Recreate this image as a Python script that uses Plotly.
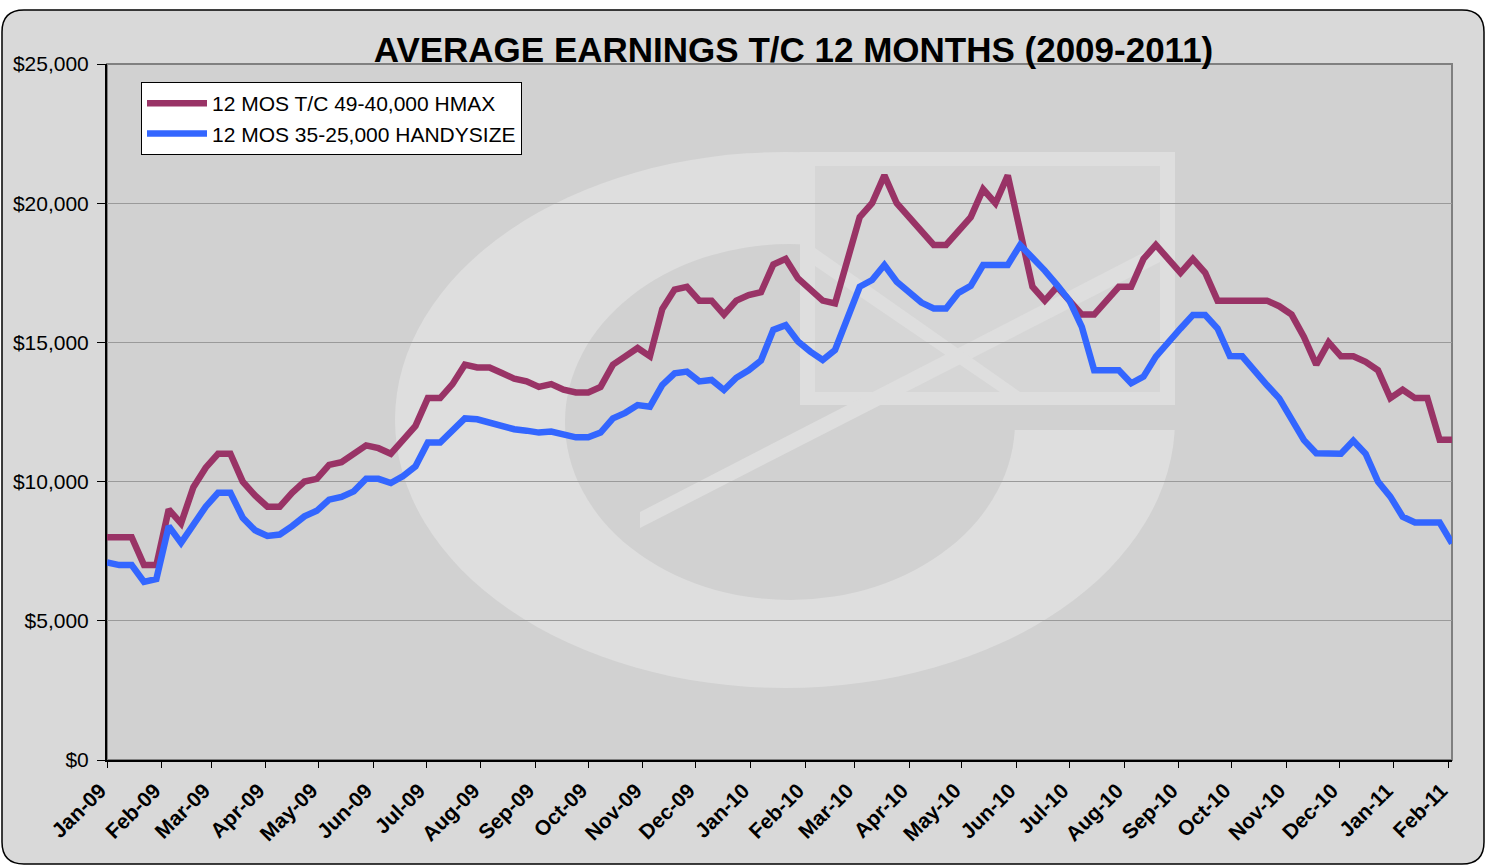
import pandas as pd
import plotly.graph_objects as go

# ---------------- data ----------------
start_date = "2009-01-01"
n_weeks = 110
dates = pd.date_range(start_date, periods=n_weeks, freq="7D")

hmax_name = "12 MOS T/C 49-40,000 HMAX"
handy_name = "12 MOS 35-25,000 HANDYSIZE"

hmax = [8000, 8000, 8000, 7000, 7000, 9000, 8500, 9800, 10500, 11000,
        11000, 10000, 9500, 9100, 9100, 9600, 10000, 10100, 10600, 10700,
        11000, 11300, 11200, 11000, 11500, 12000, 13000, 13000, 13500, 14200,
        14100, 14100, 13900, 13700, 13600, 13400, 13500, 13300, 13200, 13200,
        13400, 14200, 14500, 14800, 14500, 16200, 16900, 17000, 16500, 16500,
        16000, 16500, 16700, 16800, 17800, 18000, 17300, 16900, 16500, 16400,
        18000, 19500, 20000, 21000, 20000, 19500, 19000, 18500, 18500, 19000,
        19500, 20500, 20000, 21000, 19100, 17000, 16500, 17000, 16500, 16000,
        16000, 16500, 17000, 17000, 18000, 18500, 18000, 17500, 18000, 17500,
        16500, 16500, 16500, 16500, 16500, 16300, 16000, 15200, 14200, 15000,
        14500, 14500, 14300, 14000, 13000, 13300, 13000, 13000, 11500, 11500]

handy = [7100, 7000, 7000, 6400, 6500, 8400, 7800, 8450, 9100, 9600,
         9600, 8700, 8250, 8050, 8100, 8400, 8750, 8950, 9350, 9450,
         9650, 10100, 10100, 9950, 10200, 10550, 11400, 11400, 11800, 12270,
         12240, 12120, 11970, 11880, 11830, 11760, 11800, 11710, 11590, 11590,
         11760, 12270, 12470, 12750, 12690, 13470, 13890, 13950, 13600, 13650,
         13290, 13730, 14000, 14350, 15450, 15620, 15030, 14670, 14370, 14730,
         15920, 17000, 17240, 17780, 17180, 16780, 16430, 16220, 16220, 16780,
         17030, 17780, 17780, 17780, 18500, 18060, 17580, 17060, 16500, 15560,
         14000, 14000, 14000, 13530, 13770, 14490, 15030, 15500, 15980, 15980,
         15500, 14510, 14500, 13950, 13470, 12990, 12210, 11490, 11020, 11000,
         11000, 11470, 11000, 10000, 9460, 8740, 8530, 8530, 8530, 7780]

y_ticks = [0, 5000, 10000, 15000, 20000, 25000]
y_ticktext = [f"${v:,}" for v in y_ticks]
title_text = "AVERAGE EARNINGS T/C 12 MONTHS (2009-2011)"

# ---------------- layout helpers ----------------
W, H = 1486, 866
L, R, T, B = 107, 1452, 64, 760


def px(x):
    return (x - L) / (R - L)


def py(y):
    return (B - y) / (B - T)


def rect(x0, y0, x1, y1, fill, line=None, lw=0):
    return dict(type="rect", xref="paper", yref="paper",
                x0=px(x0), x1=px(x1), y0=py(y1), y1=py(y0),
                fillcolor=fill, line=dict(color=line or fill, width=lw),
                layer="below")


def ellipse(x0, y0, x1, y1, fill):
    return dict(type="circle", xref="paper", yref="paper",
                x0=px(x0), x1=px(x1), y0=py(y1), y1=py(y0),
                fillcolor=fill, line=dict(width=0), layer="below")


def poly(points, fill):
    d = "M " + " L ".join(f"{px(a):.5f},{py(b):.5f}" for a, b in points) + " Z"
    return dict(type="path", xref="paper", yref="paper", path=d,
                fillcolor=fill, line=dict(width=0), layer="below")


def rounded_rect(x0, y0, x1, y1, r):
    pts = [
        f"M {px(x0 + r):.5f},{py(y0):.5f}",
        f"L {px(x1 - r):.5f},{py(y0):.5f}",
        f"Q {px(x1):.5f},{py(y0):.5f} {px(x1):.5f},{py(y0 + r):.5f}",
        f"L {px(x1):.5f},{py(y1 - r):.5f}",
        f"Q {px(x1):.5f},{py(y1):.5f} {px(x1 - r):.5f},{py(y1):.5f}",
        f"L {px(x0 + r):.5f},{py(y1):.5f}",
        f"Q {px(x0):.5f},{py(y1):.5f} {px(x0):.5f},{py(y1 - r):.5f}",
        f"L {px(x0):.5f},{py(y0 + r):.5f}",
        f"Q {px(x0):.5f},{py(y0):.5f} {px(x0 + r):.5f},{py(y0):.5f} Z",
    ]
    return " ".join(pts)


panel = "#d9d9d9"
plotbg = "#d1d1d1"
light = "#dedede"

shapes = [
    dict(type="path", xref="paper", yref="paper", path=rounded_rect(2, 10, 1484, 864, 22),
         fillcolor=panel, line=dict(color="#000000", width=1.5), layer="below"),
    rect(L, T, R, B, plotbg),
    # watermark logo
    ellipse(395, 152, 1175, 688, light),
    ellipse(565, 244, 1015, 600, plotbg),
    rect(1010, 405, 1180, 430, plotbg),
    rect(800, 152, 1175, 405, light),
    rect(815, 166, 1160, 392, "#d6d6d6"),
    poly([(640, 512), (1160, 244), (1160, 262), (640, 528)], light),
    poly([(815, 248), (1020, 392), (1000, 392), (815, 266)], light),
    # plot border (top/right are grey)
    dict(type="rect", xref="paper", yref="paper", x0=0, x1=1, y0=0, y1=1,
         line=dict(color="#808080", width=2), fillcolor="rgba(0,0,0,0)", layer="below"),
]

fig = go.Figure()
fig.add_trace(go.Scatter(x=dates, y=hmax, mode="lines", name=hmax_name,
                         line=dict(color="#993366", width=6.5)))
fig.add_trace(go.Scatter(x=dates, y=handy, mode="lines", name=handy_name,
                         line=dict(color="#3366FF", width=6.5)))

fig.update_layout(
    width=W, height=H,
    margin=dict(l=L, r=W - R, t=T, b=H - B, autoexpand=False),
    paper_bgcolor="#ffffff",
    plot_bgcolor="rgba(0,0,0,0)",
    shapes=shapes,
    font=dict(family="Liberation Sans, Arial, sans-serif", color="#000000"),
    title=dict(text=f"<b>{title_text}</b>", x=793.5 / W, xanchor="center",
               y=1 - 50 / H, yanchor="middle", yref="container",
               font=dict(size=35, color="#000000")),
    showlegend=True,
    legend=dict(x=px(141), y=py(82), xanchor="left", yanchor="top",
                bgcolor="#ffffff", bordercolor="#000000", borderwidth=1,
                font=dict(size=21), itemwidth=60, tracegroupgap=0),
    xaxis=dict(
        type="date",
        range=[dates[0], dates[-1]],
        tick0="2009-01-01", dtick="M1", tickformat="%b-%y",
        tickangle=-45, ticks="outside", ticklen=6, tickcolor="#000000",
        tickfont=dict(size=21, weight="bold"),
        ticklabelshift=-7, ticklabelstandoff=2,
        showgrid=False, showline=True, linecolor="#000000", linewidth=2,
        zeroline=False,
    ),
    yaxis=dict(
        range=[0, 25000], tickvals=y_ticks, ticktext=y_ticktext,
        ticks="outside", ticklen=8, tickcolor="#000000",
        tickfont=dict(size=21), ticklabelstandoff=4,
        showgrid=True, gridcolor="#9a9a9a", gridwidth=1,
        showline=True, linecolor="#000000", linewidth=2, zeroline=False,
    ),
)

fig.write_html(
    "out.html",
    config={"displayModeBar": False},
    post_script="document.body.style.margin='0px';document.body.style.overflow='hidden';",
)
